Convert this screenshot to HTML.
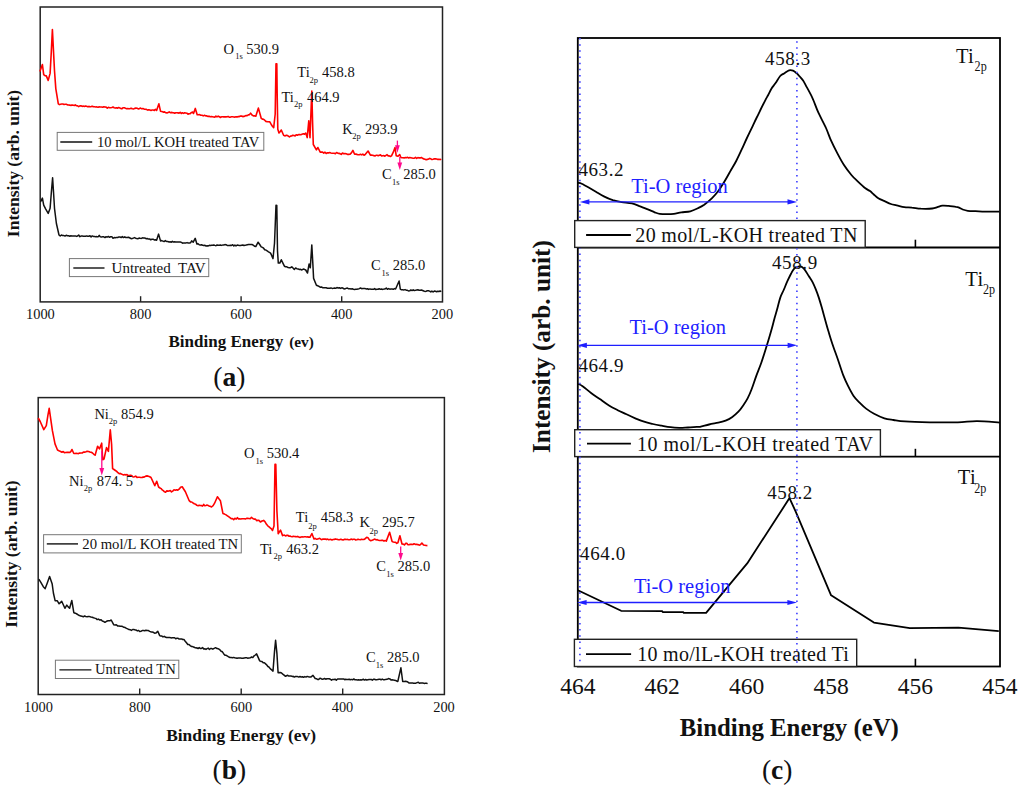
<!DOCTYPE html><html><head><meta charset="utf-8"><style>html,body{margin:0;padding:0;background:#fff;}svg{display:block;}text{font-family:"Liberation Serif",serif;fill:#111;}.b{font-weight:bold;}</style></head><body>
<svg width="1024" height="787" viewBox="0 0 1024 787">
<rect width="1024" height="787" fill="#fff"/>
<g>
<rect x="40.2" y="7" width="402.3" height="294.9" fill="none" stroke="#222" stroke-width="1.5"/>
<line x1="140.6" y1="301.9" x2="140.6" y2="296.2" stroke="#222" stroke-width="1.4"/>
<line x1="241.1" y1="301.9" x2="241.1" y2="296.2" stroke="#222" stroke-width="1.4"/>
<line x1="341.7" y1="301.9" x2="341.7" y2="296.2" stroke="#222" stroke-width="1.4"/>
<text x="40.4" y="319" font-size="14.4" text-anchor="middle">1000</text>
<text x="140.6" y="319" font-size="14.4" text-anchor="middle">800</text>
<text x="241.1" y="319" font-size="14.4" text-anchor="middle">600</text>
<text x="341.7" y="319" font-size="14.4" text-anchor="middle">400</text>
<text x="442.3" y="319" font-size="14.4" text-anchor="middle">200</text>
<polyline points="39.9,71.5 42.4,64.5 43.7,74.6 45.0,75.7 46.3,75.9 48.2,80.4 50.1,73.4 51.3,51.8 52.4,29.5 53.2,45.4 54.5,70.8 55.8,88.6 58.3,103.9 59.4,104.6 60.6,104.2 61.8,104.0 62.9,104.0 64.0,104.5 65.2,104.2 66.3,104.2 67.5,104.9 68.6,105.0 69.8,105.1 70.9,105.4 72.0,104.9 73.2,105.3 74.3,105.4 75.4,104.9 76.5,105.8 77.6,105.8 78.7,106.6 79.9,105.9 81.0,105.8 82.1,106.4 83.2,106.1 84.3,106.4 85.4,106.0 86.6,106.3 87.7,106.7 88.8,106.4 90.0,106.7 91.1,106.6 92.3,106.2 93.4,106.8 94.6,106.7 95.7,107.0 96.9,106.9 98.0,107.2 99.2,106.9 100.3,107.0 101.5,107.0 102.7,107.3 103.8,106.7 105.0,107.0 106.1,107.1 107.3,108.1 108.4,107.3 109.6,107.7 110.7,107.7 111.9,107.5 113.0,107.0 114.2,107.7 115.3,108.1 116.5,107.7 117.6,108.2 118.7,107.5 119.8,107.9 121.0,108.6 122.1,108.7 123.2,107.7 124.4,107.8 125.5,108.3 126.6,108.7 127.7,108.5 128.9,108.7 130.0,108.6 131.2,108.2 132.3,108.8 133.5,109.0 134.7,108.4 135.9,108.1 137.1,108.3 138.2,108.9 139.4,108.6 140.6,108.1 141.7,108.8 142.9,108.6 144.1,109.1 145.2,109.2 146.4,109.4 147.6,110.1 148.8,109.7 149.9,110.0 151.0,110.4 152.1,110.0 153.2,110.0 154.4,110.4 155.5,109.3 156.6,110.5 158.9,103.8 160.5,111.2 161.8,111.6 163.2,112.1 164.6,111.9 165.9,112.8 167.0,113.0 168.1,112.6 169.2,111.9 170.3,112.7 171.4,112.4 172.5,112.6 173.6,112.7 174.7,113.3 175.8,112.8 176.9,112.8 178.0,112.9 179.1,113.1 180.2,112.3 181.3,113.5 182.4,112.7 183.6,113.4 184.7,112.8 185.8,113.0 186.9,113.2 188.0,114.2 189.1,113.8 190.2,113.6 191.3,112.6 192.5,112.0 193.5,113.5 195.3,108.4 197.2,114.7 198.4,114.8 199.6,114.6 200.8,115.3 202.0,115.2 203.3,115.9 204.5,115.3 205.7,115.9 206.9,115.9 208.1,116.4 209.2,116.2 210.3,116.7 211.5,116.6 212.6,116.8 213.7,117.0 214.8,117.1 215.9,116.1 217.0,116.9 218.2,116.1 219.3,116.7 220.4,117.5 221.5,116.8 222.6,116.7 223.8,116.9 224.9,116.9 226.0,116.9 227.1,116.8 228.2,116.5 229.3,117.2 230.5,117.1 231.6,116.7 232.7,116.8 233.8,117.0 234.9,117.1 236.0,116.8 237.2,116.9 238.3,116.5 239.4,116.6 240.5,116.1 241.6,116.1 242.7,116.6 243.9,116.4 245.0,115.9 246.1,115.5 247.2,115.6 248.3,114.9 249.5,114.6 250.6,113.1 252.0,115.0 253.4,115.9 254.6,115.8 255.8,116.2 258.4,108.1 261.2,118.3 262.4,119.1 263.6,119.3 264.7,120.2 265.9,121.4 267.2,121.6 268.5,121.7 269.8,121.9 271.1,124.2 272.4,126.2 273.7,127.7 275.2,114.0 276.0,63.7 276.8,63.7 277.2,95.7 277.8,129.2 279.0,133.0 280.1,131.8 281.3,130.0 283.6,135.3 284.8,135.9 285.9,135.4 287.1,135.3 288.2,136.0 289.4,137.0 290.5,136.1 291.6,136.0 292.8,135.3 293.9,135.6 295.1,135.9 296.2,134.8 297.3,135.3 298.5,134.6 299.6,134.6 300.8,134.8 302.0,134.3 303.3,133.8 304.5,134.1 305.7,133.0 307.2,137.6 308.8,120.9 310.0,137.6 311.8,91.1 312.6,123.1 313.3,144.5 316.4,149.8 317.9,147.5 320.2,152.1 321.4,152.1 322.6,152.1 323.8,153.1 325.0,152.2 326.2,153.5 327.4,152.8 328.6,152.9 329.7,152.6 330.9,153.0 332.0,153.2 333.2,153.3 334.3,153.2 335.4,153.7 336.6,152.5 337.7,153.2 338.9,153.4 340.0,153.6 341.2,154.4 342.5,153.0 343.7,153.7 344.9,153.5 346.2,153.8 347.4,154.4 348.7,154.4 349.9,154.3 351.4,152.9 352.9,150.4 354.6,154.3 355.8,154.1 357.0,154.4 358.1,154.8 359.3,154.7 360.5,154.3 361.7,154.9 362.8,154.1 364.0,155.2 365.2,154.5 366.6,152.8 368.1,151.0 370.4,155.1 371.5,155.1 372.6,155.3 373.8,155.6 374.9,156.0 376.0,155.3 377.1,155.3 378.2,155.7 379.3,155.2 380.5,154.9 381.6,156.0 382.7,155.7 383.8,155.6 384.9,156.2 386.0,155.4 387.1,154.7 388.2,155.9 389.3,155.9 390.4,156.5 391.5,155.9 393.3,152.2 395.0,147.5 396.2,155.7 398.0,156.3 399.7,154.5 400.9,157.5 402.0,157.7 403.1,157.7 404.2,157.9 405.3,157.6 406.4,157.8 407.6,157.3 408.7,158.0 409.8,157.6 410.9,157.8 412.0,158.0 413.2,158.2 414.4,158.2 415.5,157.4 416.7,158.5 417.9,157.5 419.0,157.9 420.2,157.9 421.4,157.5 422.6,158.3 423.8,159.0 424.9,159.1 426.1,159.7 427.3,159.4 428.4,159.2 429.6,158.4 430.8,158.8 431.9,159.5 433.1,159.2 434.3,158.8 435.4,158.9 436.6,159.0 437.8,159.4 439.0,159.3 440.1,159.6 441.3,159.2" fill="none" stroke="#f00" stroke-width="1.6" stroke-linejoin="round"/>
<polyline points="40.5,201.9 42.4,198.1 43.7,205.1 45.6,208.9 48.2,213.4 50.1,208.3 51.3,193.0 52.6,177.8 53.5,191.8 54.5,208.3 56.4,223.5 59.0,235.0 60.2,236.0 61.4,235.0 62.6,235.6 63.8,235.6 65.0,236.0 66.2,235.3 67.4,235.8 68.6,235.8 69.8,236.2 70.9,235.8 72.0,235.9 73.2,236.0 74.3,236.1 75.4,235.9 76.5,236.4 77.6,236.0 78.7,235.0 79.9,236.7 81.0,236.1 82.1,235.9 83.2,236.3 84.3,236.3 85.4,236.2 86.6,235.9 87.7,236.3 88.8,236.2 90.0,235.7 91.1,236.9 92.3,235.9 93.4,236.4 94.6,236.5 95.7,236.7 96.9,236.6 98.0,236.9 99.2,235.4 100.3,236.7 101.5,236.9 102.7,236.8 103.8,236.8 105.0,237.6 106.1,236.7 107.3,237.1 108.4,236.4 109.6,237.3 110.7,236.7 111.9,236.7 113.0,238.3 114.2,237.5 115.4,237.7 116.5,237.4 117.7,237.5 118.9,236.9 120.0,237.0 121.2,237.6 122.3,236.6 123.5,237.6 124.7,236.8 125.8,237.5 127.0,237.5 128.5,237.3 130.0,238.0 131.1,238.7 132.2,238.6 133.3,238.1 134.5,237.6 135.6,238.2 136.7,238.6 137.8,238.8 139.0,238.1 140.2,238.3 141.3,238.4 142.5,237.8 143.7,237.9 144.8,238.0 146.0,238.7 147.2,238.5 148.4,239.1 149.6,238.9 150.7,239.8 151.9,239.3 153.1,239.2 154.2,239.9 155.4,239.8 156.6,240.3 158.6,234.1 160.5,240.9 161.7,240.6 162.9,241.1 164.1,241.6 165.4,240.6 166.6,241.5 167.8,241.6 169.0,241.9 170.1,241.8 171.3,242.2 172.4,241.3 173.5,242.1 174.6,241.8 175.8,241.9 176.9,241.9 178.0,241.9 179.2,241.9 180.3,242.0 181.4,242.4 182.6,243.2 183.7,242.9 184.9,242.9 186.0,242.9 187.1,242.6 188.3,243.1 189.4,243.0 190.6,242.7 191.7,240.9 193.2,242.2 195.2,238.3 196.9,244.0 198.1,243.7 199.2,244.7 200.4,244.9 201.5,244.8 202.7,245.2 203.8,245.6 205.0,245.3 206.1,246.1 207.2,245.7 208.3,245.9 209.4,245.3 210.5,245.5 211.6,245.2 212.7,245.3 213.8,245.0 214.9,245.4 216.0,245.7 217.1,245.0 218.2,245.2 219.3,245.3 220.4,245.0 221.5,245.4 222.6,245.1 223.8,245.0 224.9,244.6 226.0,244.7 227.1,245.4 228.2,245.4 229.3,245.6 230.5,245.3 231.6,245.4 232.7,244.7 233.8,245.9 234.9,245.1 236.0,245.9 237.2,245.1 238.3,245.3 239.4,245.6 240.5,245.5 241.7,245.2 242.8,245.0 243.9,245.5 245.1,245.3 246.2,245.1 247.4,244.8 248.5,244.5 249.6,244.5 250.8,244.4 251.9,244.5 253.2,245.2 254.5,246.2 255.8,246.6 258.1,242.2 259.7,244.5 261.2,246.9 262.4,247.4 263.6,248.2 264.7,249.7 265.9,250.0 267.1,250.8 268.2,251.6 269.4,252.4 270.6,253.1 273.0,258.6 274.5,243.3 276.0,205.2 276.8,205.5 277.5,251.0 278.3,263.1 279.8,263.1 281.3,259.8 284.4,266.2 285.6,266.7 286.8,266.8 288.1,267.5 289.3,267.7 290.5,267.7 291.8,266.8 293.0,268.0 294.3,269.4 295.6,268.0 296.8,268.7 298.1,268.9 299.4,269.5 300.6,269.3 301.9,270.0 303.2,269.1 304.4,269.3 305.7,270.0 307.5,273.0 309.1,263.9 310.3,267.7 311.8,244.9 312.9,264.7 313.6,278.4 316.4,285.2 317.7,285.8 318.9,286.3 320.2,287.2 321.4,286.9 322.6,287.7 323.8,287.8 325.0,287.8 326.2,287.8 327.4,288.2 328.6,288.3 329.8,288.2 331.0,287.9 332.2,288.4 333.4,288.3 334.6,288.1 335.7,288.3 336.9,287.6 338.1,287.9 339.3,287.7 340.5,288.4 341.7,287.8 342.9,288.1 344.0,288.9 345.2,288.8 346.4,288.2 347.5,288.1 348.7,288.8 349.9,288.7 351.1,288.9 352.2,288.7 353.4,289.2 354.6,289.4 355.8,289.2 356.9,289.2 358.1,289.1 359.3,288.6 360.5,288.0 361.7,288.7 362.8,288.5 364.0,288.5 365.2,288.6 366.4,289.0 367.5,288.7 368.7,289.4 369.9,288.9 371.0,289.2 372.2,289.2 373.4,289.3 374.6,288.6 375.7,289.6 376.9,289.2 378.1,289.2 379.2,288.7 380.4,289.3 381.6,289.1 382.8,289.4 383.9,289.1 385.1,288.9 386.3,288.1 387.4,289.3 388.6,288.6 389.8,289.2 390.9,289.0 392.1,289.0 393.3,289.3 394.4,288.6 395.6,289.0 399.1,281.0 400.3,289.2 401.5,289.8 402.7,289.8 403.9,289.9 405.0,289.6 406.2,290.2 407.4,290.3 408.5,290.9 409.7,290.8 410.8,289.9 412.0,290.6 413.2,289.8 414.3,290.5 415.5,290.3 416.7,290.0 417.9,289.8 419.0,290.2 420.2,290.2 421.4,290.0 422.6,290.5 423.8,291.0 424.9,291.4 426.1,291.2 427.3,290.8 428.4,290.7 429.6,291.1 430.8,291.9 431.9,291.1 433.1,292.0 434.3,291.1 435.4,291.3 436.6,291.7 437.8,291.2 439.0,291.5 440.1,291.0 441.3,291.6" fill="none" stroke="#111" stroke-width="1.5" stroke-linejoin="round"/>
<text x="223.6" y="53.8" font-size="14.5">O</text><text x="235.3" y="59.3" font-size="8.5">1s</text><text x="246.3" y="53.8" font-size="14.5">530.9</text>
<text x="297.3" y="77.3" font-size="14.5">Ti</text><text x="309.5" y="82.8" font-size="8.5">2p</text><text x="322" y="77.3" font-size="14.5">458.8</text>
<text x="281.4" y="101.6" font-size="14.5">Ti</text><text x="293.9" y="107.1" font-size="8.5">2p</text><text x="306.9" y="101.6" font-size="14.5">464.9</text>
<text x="342.3" y="134" font-size="14.5">K</text><text x="352.3" y="138.7" font-size="8.5">2p</text><text x="364.9" y="134" font-size="14.5">293.9</text>
<text x="381.9" y="179.1" font-size="14.5">C</text><text x="392.1" y="185.0" font-size="8.5">1s</text><text x="403.2" y="179.1" font-size="14.5">285.0</text>
<text x="371" y="270.2" font-size="14.5">C</text><text x="381.6" y="276.3" font-size="8.5">1s</text><text x="392.7" y="270.2" font-size="14.5">285.0</text>
<line x1="397.4" y1="140.6" x2="397.4" y2="146.2" stroke="#ff0a8c" stroke-width="1.3"/><polygon points="395.0,145.2 399.79999999999995,145.2 397.4,152.7" fill="#ff0a8c"/>
<line x1="399.8" y1="157" x2="399.8" y2="163.5" stroke="#ff0a8c" stroke-width="1.3"/><polygon points="397.40000000000003,162.5 402.2,162.5 399.8,170" fill="#ff0a8c"/>
<rect x="57.2" y="132.4" width="206.6" height="17.9" fill="#fff" stroke="#777" stroke-width="1"/>
<line x1="60.3" y1="142" x2="92.2" y2="142" stroke="#111" stroke-width="1.4"/>
<text x="96.9" y="146.7" font-size="14.6">10 mol/L KOH treated TAV</text>
<rect x="69.4" y="258.6" width="139.35" height="18" fill="#fff" stroke="#777" stroke-width="1"/>
<line x1="73.3" y1="268" x2="104.5" y2="268" stroke="#111" stroke-width="1.4"/>
<text x="111.6" y="272.7" font-size="15" xml:space="preserve">Untreated  TAV</text>
<text class="b" x="19.1" y="163.5" font-size="17.5" text-anchor="middle" transform="rotate(-90 19.1 163.5)">Intensity (arb. unit)</text>
<text class="b" x="168.5" y="347.2" font-size="17">Binding Energy</text>
<text class="b" x="289.2" y="347.2" font-size="15.3">(ev)</text>
<text x="213.3" y="385.9" font-size="27.5">(<tspan class="b">a</tspan>)</text>
</g>
<g>
<rect x="38.2" y="397.6" width="406.2" height="296.9" fill="none" stroke="#222" stroke-width="1.5"/>
<line x1="139.7" y1="694.5" x2="139.7" y2="688.5" stroke="#222" stroke-width="1.4"/>
<line x1="241.2" y1="694.5" x2="241.2" y2="688.5" stroke="#222" stroke-width="1.4"/>
<line x1="342.7" y1="694.5" x2="342.7" y2="688.5" stroke="#222" stroke-width="1.4"/>
<text x="38.5" y="711.6" font-size="14.4" text-anchor="middle">1000</text>
<text x="139.9" y="711.6" font-size="14.4" text-anchor="middle">800</text>
<text x="241.3" y="711.6" font-size="14.4" text-anchor="middle">600</text>
<text x="342.5" y="711.6" font-size="14.4" text-anchor="middle">400</text>
<text x="444" y="711.6" font-size="14.4" text-anchor="middle">200</text>
<polyline points="38.2,418.0 40.2,421.5 43.8,429.6 46.3,425.6 47.9,415.4 49.2,408.3 50.2,415.4 52.4,430.7 55.0,443.9 57.5,450.0 59.0,450.8 60.6,451.5 61.9,452.2 63.2,451.6 64.4,452.6 65.7,452.5 67.0,452.4 68.4,452.4 69.7,452.5 70.8,451.7 72.0,449.5 73.8,453.5 75.0,453.5 76.2,453.3 77.3,453.5 78.5,453.6 79.7,453.1 80.9,453.0 82.2,453.0 83.4,452.1 84.7,452.1 86.0,451.8 87.2,451.2 88.5,451.5 90.0,452.1 91.3,452.3 92.5,453.0 93.8,454.3 95.1,455.2 97.6,446.3 99.5,448.9 101.7,443.2 102.7,459.7 104.0,459.0 106.5,447.6 108.4,451.4 110.3,429.8 111.6,444.4 112.6,468.6 114.0,469.5 115.4,470.5 116.7,471.4 117.9,472.7 119.2,473.7 120.3,473.4 121.4,474.1 122.5,474.5 123.7,474.9 124.8,474.6 125.9,475.0 127.0,474.6 128.1,475.6 129.4,475.6 130.6,475.2 131.9,475.8 133.1,477.0 134.4,476.8 135.7,476.1 137.0,477.4 138.2,477.3 139.5,477.2 140.8,477.5 142.1,477.4 143.3,477.1 144.6,476.9 145.8,476.1 147.1,475.9 148.4,476.2 149.7,476.7 151.0,477.5 154.8,485.7 156.7,481.3 158.6,487.0 160.0,488.0 161.1,488.6 162.2,489.9 163.3,490.6 164.4,491.8 165.6,492.1 166.8,490.9 168.0,491.1 169.1,491.0 170.3,490.5 171.5,491.9 172.7,491.1 174.0,489.8 175.3,490.2 176.5,489.8 177.8,490.2 179.1,489.2 180.6,487.2 182.2,486.7 185.4,491.8 189.2,500.7 190.5,501.9 191.8,502.0 193.0,503.0 194.3,503.8 195.6,504.2 196.8,505.3 198.1,505.7 199.2,505.2 200.3,505.5 201.4,505.6 202.6,506.1 203.7,504.4 204.8,505.8 205.9,505.5 207.0,505.1 208.1,505.4 209.2,506.2 210.4,506.3 211.5,507.0 213.1,505.7 214.6,503.2 217.4,496.8 218.9,498.8 220.4,500.7 222.9,513.4 224.5,514.1 226.1,514.9 227.4,515.8 228.6,516.7 229.9,517.7 231.2,518.7 232.4,518.5 233.7,519.7 234.9,518.3 236.2,519.1 237.4,517.7 238.5,518.9 239.7,518.9 240.8,519.0 242.0,518.7 243.1,518.7 244.3,518.8 245.4,519.0 246.6,518.4 247.7,518.4 248.9,518.5 250.2,518.7 251.5,517.4 252.8,518.5 254.0,519.1 255.3,519.1 256.6,520.6 257.8,520.4 259.1,520.4 260.4,522.0 262.0,521.0 263.6,520.4 265.1,521.9 266.5,524.3 268.0,526.1 269.1,526.9 270.2,527.9 271.4,528.9 272.5,530.5 274.0,526.1 275.0,464.4 275.8,464.4 276.9,510.8 278.2,533.7 280.5,530.1 282.6,535.6 283.3,535.2 284.4,535.1 285.5,535.9 286.6,535.4 287.7,535.2 288.8,536.1 290.0,536.0 291.1,536.5 292.2,536.7 293.3,536.3 294.4,536.5 295.5,536.6 296.6,536.8 297.7,536.4 298.8,537.1 299.9,537.4 301.0,537.0 302.1,536.9 303.2,537.0 304.4,536.8 305.5,536.8 306.6,537.0 307.7,536.9 308.8,537.1 309.9,537.3 311.9,533.5 314.0,539.0 315.1,538.4 316.3,539.2 317.4,539.1 318.5,538.7 319.6,538.3 320.8,539.2 321.9,539.7 323.0,539.0 324.2,539.1 325.3,539.1 326.4,539.6 327.5,539.1 328.7,539.8 329.8,539.5 330.9,539.4 332.0,539.9 333.1,539.5 334.2,539.4 335.3,538.9 336.4,539.2 337.5,539.4 338.7,539.8 339.8,539.6 340.9,539.2 342.0,539.7 343.1,539.9 344.2,539.4 345.3,539.3 346.4,539.5 347.6,539.4 348.7,539.8 349.9,539.7 351.0,539.1 352.2,539.6 353.4,539.3 354.5,539.2 355.7,540.0 356.8,539.8 358.0,539.2 359.2,539.5 360.3,539.7 361.5,539.3 362.6,539.5 363.8,539.5 365.2,538.7 366.7,537.3 368.0,537.7 369.2,539.6 370.5,540.6 371.6,540.5 372.7,540.1 373.8,539.5 374.9,539.1 376.1,539.9 377.2,539.6 378.3,540.3 379.5,540.5 380.6,540.5 381.8,540.2 382.9,540.4 384.0,541.1 385.2,540.6 386.3,541.1 389.6,532.3 392.1,541.5 393.3,541.9 394.4,542.2 395.6,542.2 396.7,543.4 397.9,542.8 399.9,535.7 402.0,544.0 403.2,544.1 404.4,544.9 405.6,543.4 406.8,543.4 408.0,544.7 409.2,544.6 410.4,544.3 411.6,544.4 412.8,544.5 414.1,543.8 415.3,544.4 416.6,544.3 417.8,544.6 419.1,545.1 420.3,544.8 421.9,543.1 423.5,545.0 424.8,545.2 426.1,545.5 427.4,545.6" fill="none" stroke="#f00" stroke-width="1.6" stroke-linejoin="round"/>
<polyline points="38.8,579.1 40.7,582.2 43.3,586.7 45.2,588.6 47.1,583.5 49.6,576.5 52.2,584.1 53.4,593.0 55.1,600.7 57.2,600.7 59.1,603.8 60.4,602.6 61.7,601.3 64.9,608.3 66.8,605.1 68.2,606.9 69.6,608.3 71.8,600.4 73.8,612.7 75.3,613.2 76.9,614.0 78.2,614.8 79.4,615.6 80.7,615.9 82.0,616.2 83.2,616.8 84.5,616.0 85.8,616.5 87.1,616.7 88.4,616.5 89.6,616.6 90.9,617.0 92.2,617.2 93.5,617.7 94.7,618.1 96.0,618.5 97.2,619.6 98.5,619.1 99.8,620.1 101.1,619.8 102.3,621.1 103.6,621.4 104.9,622.3 106.5,621.3 108.1,620.7 109.7,620.8 111.2,620.0 113.8,624.8 115.1,625.0 116.3,624.7 117.6,625.9 118.9,626.1 120.2,626.3 121.4,626.3 122.7,626.6 123.9,627.3 125.2,627.6 126.5,628.4 127.7,628.9 129.0,629.6 130.2,629.7 131.4,630.4 132.6,629.5 133.8,629.5 135.0,629.9 136.2,630.1 137.4,630.9 138.5,630.4 139.7,631.5 140.9,631.2 142.2,630.6 143.4,630.6 144.7,630.8 145.9,630.3 147.2,630.5 148.4,630.6 149.7,631.4 150.9,631.9 152.1,632.0 153.3,632.3 154.6,633.2 155.8,633.1 157.8,631.2 159.7,635.6 160.8,636.0 161.9,636.1 163.0,636.9 164.2,636.3 165.3,637.0 166.4,637.5 167.5,637.5 168.7,637.6 169.8,637.5 171.0,637.9 172.2,637.7 173.4,637.8 174.6,637.7 175.7,638.7 176.9,638.3 178.1,638.3 179.2,639.1 180.4,639.0 181.6,638.9 182.7,639.5 183.9,639.4 185.2,641.2 186.5,642.8 187.8,644.5 189.0,644.5 190.2,645.6 191.3,646.4 192.5,646.6 193.6,647.0 194.7,647.5 195.8,647.9 197.0,647.8 198.1,648.6 199.2,647.6 200.3,648.4 201.4,648.4 202.6,647.6 203.7,648.9 204.8,648.7 206.0,649.4 207.1,648.7 208.3,648.1 209.4,649.5 210.5,648.5 211.7,648.6 212.8,649.2 214.2,648.4 215.6,647.7 217.0,648.6 218.4,648.8 219.8,649.7 221.1,651.2 222.4,651.8 223.8,653.9 225.0,655.3 226.2,655.3 227.5,656.1 228.8,657.0 230.0,657.5 231.2,657.6 232.3,657.7 233.5,657.4 234.7,657.8 235.9,658.0 237.1,658.3 238.2,658.0 239.4,658.1 240.6,658.1 241.8,658.2 243.0,658.2 244.2,658.0 245.5,657.8 246.7,657.7 247.9,658.3 249.1,657.9 250.3,657.8 251.6,657.0 252.8,657.6 254.1,655.8 255.3,655.0 256.6,653.9 259.7,660.9 260.9,661.4 262.0,661.5 263.2,662.8 264.4,662.8 265.6,663.9 266.8,665.0 267.9,666.5 269.1,667.2 270.4,668.9 271.7,669.9 273.0,671.1 274.5,651.6 275.6,640.3 276.9,653.1 278.1,672.7 280.0,672.4 281.2,672.7 282.8,674.1 284.4,675.4 285.5,676.3 286.6,675.8 287.7,675.3 288.8,676.1 289.9,676.0 291.0,676.0 292.1,676.4 293.2,676.3 294.3,677.1 295.4,676.5 296.5,676.6 297.6,676.6 298.8,677.1 300.0,676.5 301.2,677.1 302.4,676.8 303.6,677.3 304.8,676.6 306.0,677.1 307.2,676.4 308.4,676.8 309.6,677.1 310.8,677.1 313.0,675.4 315.2,678.5 316.4,678.7 317.5,679.4 318.7,679.4 319.9,678.2 321.0,678.5 322.2,679.3 323.4,679.1 324.5,678.5 325.7,679.2 326.9,678.7 328.0,678.8 329.2,678.7 330.4,679.2 331.5,680.2 332.7,679.4 333.9,679.5 335.1,679.2 336.3,680.2 337.5,679.0 338.8,679.0 340.0,678.9 341.2,679.1 342.4,678.9 343.5,678.9 344.7,679.7 345.8,679.2 346.9,679.6 348.0,679.6 349.2,679.3 350.3,679.8 351.5,679.4 352.6,679.8 353.8,678.9 355.0,679.8 356.2,679.8 357.3,679.9 358.5,679.8 359.7,679.9 360.9,679.7 362.0,680.0 363.2,679.2 364.4,680.1 365.6,679.5 366.7,680.0 367.9,679.8 369.0,679.6 370.1,679.6 371.2,679.4 372.3,680.2 373.4,679.3 374.5,679.2 375.6,679.7 376.7,679.7 377.8,679.6 378.9,679.2 380.0,679.3 381.1,679.8 382.2,679.1 383.3,679.7 384.4,679.7 385.5,679.4 387.0,679.3 388.4,678.6 389.9,678.9 391.0,680.0 392.2,679.7 393.3,680.1 394.4,680.2 395.5,680.4 396.7,681.0 397.8,681.5 400.9,667.8 402.7,681.5 404.0,681.6 405.3,681.2 406.6,681.5 407.8,682.0 408.9,682.9 410.1,682.9 411.3,683.1 412.4,682.9 413.6,683.3 414.8,683.2 415.9,683.2 417.1,682.6 418.3,682.2 419.4,683.2 420.6,682.9 421.8,683.0 422.9,683.0 424.1,683.4 425.3,683.2 426.5,683.2 427.6,683.6" fill="none" stroke="#111" stroke-width="1.5" stroke-linejoin="round"/>
<text x="94.4" y="419" font-size="14.5">Ni</text><text x="108.8" y="424.1" font-size="8.5">2p</text><text x="121.1" y="419" font-size="14.5">854.9</text>
<text x="69" y="485.8" font-size="14.5">Ni</text><text x="83.8" y="491.2" font-size="8.5">2p</text><text x="96.7" y="485.8" font-size="14.5">874. 5</text>
<text x="244.1" y="458.3" font-size="14.5">O</text><text x="255.4" y="464.0" font-size="8.5">1s</text><text x="266.7" y="458.3" font-size="14.5">530.4</text>
<text x="295.8" y="522.4" font-size="14.5">Ti</text><text x="308.2" y="528.5" font-size="8.5">2p</text><text x="320.7" y="522.4" font-size="14.5">458.3</text>
<text x="359.4" y="527.4" font-size="14.5">K</text><text x="369.6" y="534.0" font-size="8.5">2p</text><text x="382.1" y="527.4" font-size="14.5">295.7</text>
<text x="260" y="553.7" font-size="14.5">Ti</text><text x="273.4" y="559.0" font-size="8.5">2p</text><text x="286.3" y="553.7" font-size="14.5">463.2</text>
<text x="376.3" y="570.5" font-size="14.5">C</text><text x="386.3" y="576.7" font-size="8.5">1s</text><text x="397.5" y="570.5" font-size="14.5">285.0</text>
<text x="366.1" y="661.8" font-size="14.5">C</text><text x="375.8" y="667.5" font-size="8.5">1s</text><text x="386.9" y="661.8" font-size="14.5">285.0</text>
<line x1="101.8" y1="450.8" x2="101.8" y2="469.1" stroke="#ff0a8c" stroke-width="1.3"/><polygon points="99.39999999999999,468.1 104.2,468.1 101.8,475.6" fill="#ff0a8c"/>
<line x1="400.7" y1="546.4" x2="400.7" y2="554.1" stroke="#ff0a8c" stroke-width="1.3"/><polygon points="398.3,553.1 403.09999999999997,553.1 400.7,560.6" fill="#ff0a8c"/>
<rect x="43.6" y="534.7" width="197.7" height="18.2" fill="#fff" stroke="#777" stroke-width="1"/>
<line x1="46.8" y1="543.9" x2="78" y2="543.9" stroke="#111" stroke-width="1.4"/>
<text x="82.3" y="548.6" font-size="14.7">20 mol/L KOH treated TN</text>
<rect x="55.4" y="660.2" width="123.4" height="18.3" fill="#fff" stroke="#777" stroke-width="1"/>
<line x1="59.4" y1="669.9" x2="91.4" y2="669.9" stroke="#111" stroke-width="1.4"/>
<text x="94.9" y="674.3" font-size="14.7">Untreated TN</text>
<text class="b" x="17.3" y="554" font-size="17.5" text-anchor="middle" transform="rotate(-90 17.3 554)">Intensity (arb. unit)</text>
<text class="b" x="166.2" y="741" font-size="17.4">Binding Energy (ev)</text>
<text x="212.6" y="779.2" font-size="27.5">(<tspan class="b">b</tspan>)</text>
</g>
<g>
<path d="M577.9,182.8 C578.5,183.0 579.9,182.9 581.7,183.7 C583.5,184.5 586.3,186.1 588.7,187.5 C591.1,188.9 593.8,190.5 596.3,192.0 C598.8,193.5 601.1,195.0 603.9,196.4 C606.6,197.8 609.8,199.2 612.8,200.2 C615.8,201.1 618.5,201.6 621.7,202.1 C624.9,202.6 628.9,202.7 631.9,203.4 C634.9,204.1 636.8,205.1 639.5,206.2 C642.2,207.2 645.9,208.7 648.4,209.7 C650.9,210.7 652.8,211.6 654.7,212.3 C656.6,213.0 657.8,213.6 659.8,213.9 C661.8,214.2 664.5,214.2 666.8,214.2 C669.1,214.2 671.4,214.2 673.8,213.9 C676.2,213.6 678.6,212.7 681.4,212.3 C684.1,211.9 687.5,212.0 690.3,211.3 C693.0,210.6 695.6,209.3 697.9,208.2 C700.2,207.1 701.9,206.3 704.2,204.7 C706.5,203.0 709.5,200.5 711.8,198.3 C714.1,196.1 715.9,194.2 717.9,191.5 C719.9,188.8 722.0,185.6 724.0,182.3 C726.0,179.0 728.1,175.2 730.1,171.6 C732.1,168.0 734.3,164.7 736.2,161.0 C738.1,157.3 739.9,153.4 741.6,149.7 C743.4,145.9 744.8,142.5 746.7,138.5 C748.6,134.5 751.2,129.2 752.8,125.8 C754.4,122.4 755.2,120.6 756.5,118.0 C757.8,115.4 759.0,112.9 760.4,110.0 C761.8,107.1 763.7,103.3 765.0,100.8 C766.3,98.3 767.1,97.0 768.2,95.0 C769.3,93.0 770.2,90.6 771.4,88.7 C772.6,86.8 773.7,85.7 775.2,83.6 C776.7,81.5 778.7,77.7 780.2,76.0 C781.7,74.3 782.6,74.4 784.1,73.4 C785.6,72.5 787.6,70.8 789.1,70.3 C790.6,69.8 791.7,70.1 793.0,70.6 C794.3,71.1 795.8,72.5 796.8,73.4 C797.8,74.3 798.2,74.8 799.3,76.0 C800.3,77.2 801.8,78.5 803.1,80.4 C804.4,82.3 805.6,85.1 806.9,87.4 C808.2,89.7 809.6,92.3 810.7,94.4 C811.8,96.5 812.0,97.0 813.3,100.0 C814.6,103.0 816.3,108.0 818.4,112.7 C820.5,117.4 823.9,123.3 826.0,128.0 C828.1,132.7 829.2,136.5 831.1,140.7 C833.0,144.9 835.3,149.4 837.4,153.4 C839.5,157.4 841.5,161.2 843.8,164.8 C846.1,168.4 849.1,172.2 851.4,175.0 C853.7,177.8 855.4,179.1 857.7,181.3 C860.0,183.5 863.4,186.7 865.4,188.3 C867.4,189.9 868.6,190.1 870.0,191.1 C871.4,192.1 872.4,193.3 873.8,194.5 C875.2,195.7 876.6,197.2 878.3,198.3 C880.0,199.4 881.9,200.0 884.0,200.9 C886.1,201.8 888.8,203.3 890.9,204.0 C893.0,204.7 894.5,204.8 896.7,205.3 C898.9,205.8 901.8,206.8 904.3,207.2 C906.8,207.6 909.1,207.3 911.9,207.6 C914.6,207.8 917.4,208.5 920.8,208.7 C924.2,208.8 929.5,208.8 932.2,208.5 C935.0,208.2 935.6,207.7 937.3,207.2 C939.0,206.7 940.5,205.9 942.4,205.7 C944.3,205.5 946.2,205.7 948.7,205.9 C951.2,206.2 955.3,206.6 957.6,207.2 C959.9,207.8 961.0,208.9 962.7,209.5 C964.4,210.1 965.7,210.5 967.8,210.8 C969.9,211.1 972.5,211.1 975.4,211.2 C978.3,211.3 981.0,211.5 985.0,211.6 C989.0,211.7 997.0,211.7 999.4,211.7" fill="none" stroke="#000" stroke-width="1.8" stroke-linejoin="round"/>
<path d="M578.4,383.9 C579.1,384.3 580.4,384.6 582.6,386.2 C584.8,387.8 588.5,391.0 591.4,393.2 C594.3,395.4 597.3,397.2 600.2,399.3 C603.1,401.4 606.1,403.7 609.0,405.5 C611.9,407.3 614.8,408.7 617.7,410.2 C620.6,411.7 623.6,412.9 626.5,414.3 C629.4,415.7 632.4,417.1 635.3,418.3 C638.2,419.5 641.2,420.8 644.1,421.7 C647.0,422.6 650.0,423.3 652.9,424.0 C655.8,424.7 658.8,425.2 661.7,425.7 C664.6,426.2 667.6,426.8 670.5,427.1 C673.4,427.5 676.4,427.7 679.3,427.8 C682.2,427.9 685.1,427.6 688.0,427.5 C690.9,427.4 694.8,427.0 696.8,426.9 C698.8,426.8 698.0,427.2 700.0,426.8 C702.0,426.4 706.1,425.2 709.1,424.5 C712.1,423.8 715.5,423.3 718.3,422.7 C721.0,422.1 723.3,421.5 725.6,420.6 C727.9,419.7 729.9,418.7 732.0,417.2 C734.1,415.7 736.6,413.6 738.4,411.7 C740.2,409.8 741.5,407.9 743.0,405.7 C744.5,403.5 746.2,401.1 747.6,398.4 C749.0,395.7 750.2,393.0 751.6,389.3 C753.0,385.6 754.6,380.5 756.2,376.1 C757.8,371.7 759.5,367.9 761.3,362.8 C763.1,357.7 765.0,351.4 766.8,345.6 C768.6,339.9 770.6,332.9 771.9,328.3 C773.2,323.7 773.6,321.5 774.6,318.0 C775.6,314.5 776.7,310.9 777.6,307.5 C778.5,304.1 779.3,300.5 780.3,297.6 C781.3,294.7 782.5,292.8 783.7,290.0 C784.9,287.2 786.2,283.7 787.5,280.9 C788.8,278.1 790.1,275.3 791.3,273.2 C792.4,271.1 793.5,269.3 794.4,268.3 C795.3,267.3 795.8,267.3 796.7,267.0 C797.6,266.7 798.8,266.4 799.7,266.4 C800.6,266.4 801.1,266.4 802.0,267.0 C802.9,267.6 804.0,268.6 805.1,270.2 C806.2,271.8 807.6,274.3 808.9,276.3 C810.2,278.3 811.6,280.2 812.7,282.4 C813.8,284.5 814.7,286.7 815.7,289.2 C816.7,291.7 817.8,294.6 818.8,297.6 C819.8,300.7 820.9,304.4 821.8,307.5 C822.7,310.6 823.0,312.2 824.1,316.0 C825.2,319.8 826.8,325.9 828.2,330.5 C829.6,335.1 830.6,338.6 832.3,343.7 C834.0,348.8 836.6,355.7 838.4,361.0 C840.2,366.3 841.7,371.3 843.3,375.4 C844.9,379.5 846.2,382.3 847.9,385.7 C849.6,389.1 851.7,393.2 853.6,396.0 C855.5,398.8 857.2,400.2 859.3,402.3 C861.4,404.4 863.6,406.7 866.1,408.6 C868.6,410.5 871.1,412.1 874.1,413.7 C877.1,415.3 881.1,417.2 884.4,418.3 C887.6,419.4 890.2,419.5 893.6,420.0 C897.0,420.5 899.0,421.0 905.0,421.4 C911.0,421.8 921.0,422.1 929.8,422.3 C938.6,422.5 949.9,422.5 957.8,422.3 C965.7,422.1 970.3,421.1 977.3,421.2 C984.3,421.2 996.0,422.4 999.7,422.6" fill="none" stroke="#000" stroke-width="1.8" stroke-linejoin="round"/>
<polyline points="577.9,590.2 621.1,610.8 662.1,611.1 662.7,612.0 683.2,612.2 683.8,612.9 706.1,612.9 747.2,563.4 789.5,498.1 795.7,511.6 831.1,595.3 873.9,622.6 909.8,628.2 958.4,627.7 998.8,631.2" fill="none" stroke="#000" stroke-width="1.8" stroke-linejoin="round"/>
<line x1="577.8" y1="247.5" x2="1000" y2="247.5" stroke="#000" stroke-width="1.8"/>
<line x1="577.8" y1="456.6" x2="1000" y2="456.6" stroke="#000" stroke-width="1.8"/>
<line x1="915.4" y1="247.5" x2="915.4" y2="239.7" stroke="#000" stroke-width="1.6"/>
<line x1="915.4" y1="456.6" x2="915.4" y2="448.8" stroke="#000" stroke-width="1.6"/>
<line x1="915.4" y1="666.5" x2="915.4" y2="658.7" stroke="#000" stroke-width="1.6"/>
<rect x="577.8" y="38" width="422.2" height="628.5" fill="none" stroke="#000" stroke-width="1.8"/>
<line x1="585.8" y1="201.9" x2="791.1" y2="201.9" stroke="#1f1fff" stroke-width="1.3"/><polygon points="579.8,201.9 589.4,199.3 589.4,204.5" fill="#1f1fff"/><polygon points="797.1,201.9 787.5,199.3 787.5,204.5" fill="#1f1fff"/>
<line x1="583.3" y1="345.3" x2="791.2" y2="345.3" stroke="#1f1fff" stroke-width="1.3"/><polygon points="577.3,345.3 586.9,342.7 586.9,347.90000000000003" fill="#1f1fff"/><polygon points="797.2,345.3 787.6,342.7 787.6,347.90000000000003" fill="#1f1fff"/>
<line x1="583" y1="602.5" x2="791" y2="602.5" stroke="#1f1fff" stroke-width="1.3"/><polygon points="577,602.5 586.6,599.9 586.6,605.1" fill="#1f1fff"/><polygon points="797,602.5 787.4,599.9 787.4,605.1" fill="#1f1fff"/>
<rect x="574.7" y="429.7" width="305.7" height="26.9" fill="#fff" stroke="#222" stroke-width="1.4"/>
<line x1="587" y1="443.6" x2="630.9" y2="443.6" stroke="#000" stroke-width="1.8"/>
<text x="637.1" y="451.2" font-size="20" letter-spacing="0.48">10 mol/L-KOH treated TAV</text>
<rect x="574.4" y="639.3" width="282.3" height="27.2" fill="#fff" stroke="#222" stroke-width="1.4"/>
<line x1="586" y1="654.2" x2="631.1" y2="654.2" stroke="#000" stroke-width="1.8"/>
<text x="637.2" y="661.0" font-size="20" letter-spacing="0.3">10 mo/lL-KOH treated Ti</text>
<line x1="579.9" y1="38.05" x2="579.9" y2="666" stroke="#5050ff" stroke-width="1.8" stroke-dasharray="1.5 4.6565"/>
<line x1="796.9" y1="41.25" x2="796.9" y2="666" stroke="#5050ff" stroke-width="1.8" stroke-dasharray="1.5 4.579"/>
<rect x="574.7" y="220.6" width="290.5" height="26.8" fill="#fff" stroke="#222" stroke-width="1.4"/>
<line x1="586.1" y1="235" x2="630.9" y2="235" stroke="#000" stroke-width="1.8"/>
<text x="635.3" y="241.9" font-size="20" letter-spacing="0.34">20 mol/L-KOH treated TN</text>
<text x="765.1" y="65.2" font-size="19" letter-spacing="0.6">458.3</text>
<text x="772" y="269.4" font-size="19" letter-spacing="0.6">458.9</text>
<text x="767.2" y="499.2" font-size="19" letter-spacing="0.6">458.2</text>
<text x="578.4" y="175.7" font-size="19" letter-spacing="0.6">463.2</text>
<text x="578.4" y="372" font-size="19" letter-spacing="0.6">464.9</text>
<text x="580.1" y="559.8" font-size="19" letter-spacing="0.6">464.0</text>
<text x="956.0" y="63" font-size="20.5" letter-spacing="0.3">Ti</text><text transform="translate(974.6 70.7) scale(0.97 1.2)" x="0" y="0" font-size="12.5">2p</text>
<text x="965.3000000000001" y="286.3" font-size="20.5" letter-spacing="0.3">Ti</text><text transform="translate(983 294.1) scale(0.97 1.2)" x="0" y="0" font-size="12.5">2p</text>
<text x="957.8000000000001" y="483.9" font-size="20.5" letter-spacing="0.3">Ti</text><text transform="translate(974.3 492.5) scale(0.97 1.2)" x="0" y="0" font-size="12.5">2p</text>
<text x="631.2" y="192.5" font-size="20.5" style="fill:#1f1fff">Ti-O region</text>
<text x="629.5" y="333.8" font-size="20.5" style="fill:#1f1fff">Ti-O region</text>
<text x="634" y="593.1" font-size="20.5" style="fill:#1f1fff">Ti-O region</text>
<text x="577.8" y="693.8" font-size="23.5" text-anchor="middle">464</text>
<text x="662.2" y="693.8" font-size="23.5" text-anchor="middle">462</text>
<text x="746.6" y="693.8" font-size="23.5" text-anchor="middle">460</text>
<text x="831" y="693.8" font-size="23.5" text-anchor="middle">458</text>
<text x="915.4" y="693.8" font-size="23.5" text-anchor="middle">456</text>
<text x="999.8" y="693.8" font-size="23.5" text-anchor="middle">454</text>
<text class="b" x="550.4" y="346.5" font-size="25.3" text-anchor="middle" transform="rotate(-90 550.4 346.5)">Intensity (arb. unit)</text>
<text class="b" x="679.8" y="736.3" font-size="24.8">Binding Energy (eV)</text>
<text x="761.9" y="778.5" font-size="27.5">(<tspan class="b">c</tspan>)</text>
</g>
</svg></body></html>
